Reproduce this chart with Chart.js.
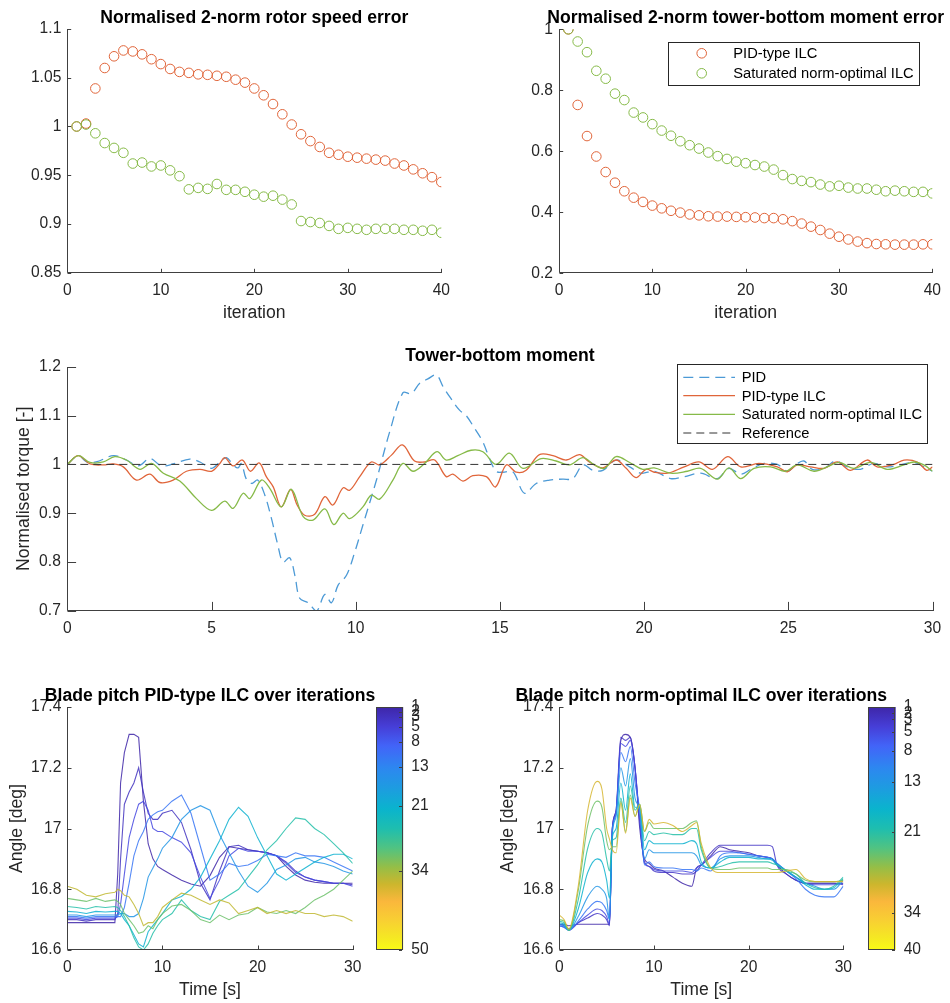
<!DOCTYPE html>
<html><head><meta charset="utf-8"><title>ILC results</title>
<script src="https://cdn.jsdelivr.net/npm/chart.js@4.4.1/dist/chart.umd.min.js"></script>
<style>
html,body{margin:0;padding:0;background:#fff;}
#page{position:relative;width:950px;height:1003px;background:#fff;overflow:hidden;}
canvas{position:absolute;}
</style></head><body>
<div id="page">
<canvas id="c1" width="470" height="330" style="left:0;top:0"></canvas>
<canvas id="c2" width="480" height="330" style="left:470px;top:0"></canvas>
<canvas id="c3" width="950" height="310" style="left:0;top:335px"></canvas>
<canvas id="c4" width="470" height="331" style="left:0;top:672px"></canvas>
<canvas id="c5" width="480" height="331" style="left:470px;top:672px"></canvas>
<canvas id="c4b" width="80" height="331" style="left:372px;top:672px"></canvas>
<canvas id="c5b" width="80" height="331" style="left:862px;top:672px"></canvas>
</div>
<script>
// ================= DATA =================
const ITER = [1,2,3,4,5,6,7,8,9,10,11,12,13,14,15,16,17,18,19,20,21,22,23,24,25,26,27,28,29,30,31,32,33,34,35,36,37,38,39,40];
const ITER_TICKS = [0,10,20,30,40];
const ITER_LABELS = ['0','10','20','30','40'];

// Normalised 2-norm rotor speed error
const RS_PID_ILC = [1.0,1.003,1.039,1.060,1.072,1.078,1.077,1.074,1.069,1.064,1.059,1.056,1.055,1.0535,1.053,1.052,1.051,1.048,1.045,1.039,1.032,1.023,1.0125,1.002,0.992,0.985,0.979,0.973,0.971,0.969,0.968,0.967,0.966,0.965,0.962,0.960,0.956,0.952,0.948,0.943];
const RS_NO_ILC  = [1.0,1.002,0.993,0.983,0.978,0.973,0.962,0.963,0.959,0.960,0.955,0.949,0.9355,0.937,0.936,0.941,0.935,0.935,0.933,0.930,0.928,0.929,0.925,0.920,0.903,0.902,0.901,0.898,0.895,0.896,0.895,0.894,0.895,0.895,0.895,0.894,0.894,0.893,0.894,0.891];
const RS_TICKS = [0.85,0.9,0.95,1,1.05,1.1];
const RS_LABELS = ['0.85','0.9','0.95','1','1.05','1.1'];

// Normalised 2-norm tower-bottom moment error
const TB_PID_ILC = [1.0,0.752,0.650,0.583,0.532,0.497,0.469,0.448,0.434,0.422,0.413,0.405,0.399,0.393,0.390,0.387,0.386,0.386,0.385,0.384,0.383,0.381,0.381,0.377,0.371,0.363,0.353,0.342,0.330,0.320,0.311,0.304,0.299,0.296,0.295,0.294,0.294,0.294,0.295,0.295];
const TB_NO_ILC  = [1.0,0.960,0.925,0.864,0.838,0.789,0.768,0.727,0.711,0.689,0.668,0.651,0.633,0.620,0.609,0.596,0.584,0.575,0.566,0.561,0.555,0.550,0.540,0.522,0.509,0.503,0.499,0.491,0.485,0.487,0.481,0.478,0.478,0.474,0.469,0.471,0.469,0.467,0.467,0.462];
const TB_TICKS = [0.2,0.4,0.6,0.8,1];
const TB_LABELS = ['0.2','0.4','0.6','0.8','1'];

// Tower-bottom moment time series [time s, normalised torque]
const MOM_PID = [[0,1.0],[0.38,1.018],[0.67,1.005],[1.0,1.005],[1.6,1.018],[2.05,1.009],[2.46,0.997],[2.86,1.012],[3.27,0.997],[3.67,1.001],[4.25,1.011],[4.6,1.005],[5.0,0.992],[5.29,1.005],[5.52,1.014],[5.75,0.999],[5.92,0.993],[6.04,1.002],[6.2,0.971],[6.4,0.961],[6.6,0.968],[6.85,0.937],[7.08,0.889],[7.3,0.835],[7.48,0.80],[7.71,0.809],[7.89,0.773],[8.06,0.726],[8.35,0.717],[8.64,0.70],[8.93,0.734],[9.16,0.717],[9.39,0.753],[9.68,0.773],[9.97,0.821],[10.25,0.876],[10.72,0.968],[11.18,1.067],[11.64,1.147],[11.93,1.145],[12.22,1.166],[12.5,1.175],[12.8,1.183],[13.03,1.159],[13.3,1.135],[13.6,1.111],[13.83,1.10],[14.12,1.074],[14.41,1.046],[14.64,1.012],[14.87,0.986],[15.1,0.984],[15.45,0.985],[15.85,0.941],[16.26,0.961],[16.72,0.968],[17.18,0.970],[17.53,0.971],[17.88,0.999],[18.22,0.988],[18.57,0.988],[19.03,1.009],[19.5,0.995],[19.9,0.982],[20.35,0.986],[20.92,0.971],[21.39,0.975],[21.96,0.982],[22.54,0.971],[22.94,0.992],[23.35,0.980],[23.7,0.990],[24.16,1.002],[24.62,1.0],[24.97,0.986],[25.25,0.999],[25.54,1.007],[25.83,0.990],[26.24,0.992],[26.64,1.007],[27.04,0.995],[27.5,0.990],[27.96,1.002],[28.43,0.995],[28.89,0.999],[29.35,1.004],[29.7,0.995],[30,0.986]];
const MOM_PID_ILC = [[0,1.0],[0.38,1.018],[0.79,1.001],[1.25,0.999],[1.6,1.001],[1.94,0.995],[2.4,0.968],[2.86,0.980],[3.21,0.963],[3.67,0.968],[4.13,0.986],[4.6,0.990],[5.0,0.986],[5.29,1.002],[5.46,1.014],[5.75,0.997],[6.07,1.009],[6.35,0.986],[6.65,1.003],[6.9,0.975],[7.14,0.954],[7.42,0.913],[7.74,0.949],[7.97,0.917],[8.23,0.896],[8.58,0.898],[8.93,0.934],[9.21,0.917],[9.56,0.952],[9.79,0.947],[10.14,0.975],[10.54,1.005],[10.83,0.999],[11.24,1.019],[11.62,1.04],[12.04,1.007],[12.39,1.005],[12.74,1.009],[13.14,0.975],[13.37,0.980],[13.72,0.966],[14.06,0.977],[14.53,0.975],[14.85,0.954],[15.22,0.999],[15.57,0.984],[15.91,0.988],[16.37,1.020],[16.84,1.018],[17.3,1.009],[17.76,1.020],[18.1,1.005],[18.57,0.993],[19.03,1.009],[19.38,0.992],[19.72,0.973],[20.07,0.990],[20.35,0.984],[20.81,0.982],[21.39,0.995],[21.9,1.005],[22.37,0.990],[22.9,1.016],[23.35,0.995],[23.98,1.002],[24.62,0.995],[24.97,0.985],[25.31,0.999],[25.77,0.995],[26.24,0.992],[26.7,1.005],[27.16,0.988],[27.73,1.009],[28.08,0.995],[28.66,1.0],[29.01,1.009],[29.47,1.005],[29.8,0.988],[30,0.995]];
const MOM_NO_ILC = [[0,1.0],[0.38,1.018],[0.79,1.004],[1.25,1.005],[1.65,1.016],[2.05,1.009],[2.52,0.990],[2.92,1.002],[3.33,0.982],[3.9,0.966],[4.48,0.930],[5.0,0.906],[5.46,0.925],[5.75,0.910],[6.1,0.941],[6.33,0.930],[6.73,0.968],[7.02,0.951],[7.42,0.913],[7.77,0.949],[8.18,0.893],[8.52,0.886],[8.93,0.909],[9.24,0.877],[9.56,0.900],[9.79,0.889],[10.25,0.913],[10.54,0.937],[10.83,0.929],[11.29,0.968],[11.64,1.002],[11.99,0.986],[12.39,1.002],[12.82,1.026],[13.14,1.009],[13.54,1.018],[14.0,1.029],[14.41,1.026],[14.87,1.0],[15.33,1.023],[15.8,0.992],[16.43,1.012],[16.95,1.007],[17.41,0.999],[17.88,1.014],[18.28,0.999],[18.63,0.992],[19.03,1.016],[19.5,1.004],[19.95,0.990],[20.35,0.993],[20.92,0.982],[21.5,0.986],[21.96,0.992],[22.54,0.970],[22.94,0.993],[23.35,0.971],[23.81,0.992],[24.39,0.995],[24.91,0.986],[25.31,0.999],[25.89,0.986],[26.35,0.995],[26.76,1.004],[27.27,0.992],[27.85,1.004],[28.43,0.990],[29.01,0.999],[29.35,1.005],[29.7,0.999],[30,0.986]];
const MOM_REF = [[0,1],[30,1]];
const MOM_XTICKS = [0,5,10,15,20,25,30];
const MOM_XLABELS = ['0','5','10','15','20','25','30'];
const MOM_YTICKS = [0.7,0.8,0.9,1,1.1,1.2];
const MOM_YLABELS = ['0.7','0.8','0.9','1','1.1','1.2'];

// Blade pitch, PID-type ILC (time grid + one array per plotted iteration)
const T_PL = [0,1,2,3,4,5,5.3,5.6,6,6.5,7,7.5,8,8.5,9,9.5,10,11,12,13,14,15,16,17,18,19,20,21,22,23,24,25,26,27,28,29,30];
const PL_ITERS = [1,3,6,11,16,21,26,31,36];
const PL_1  = [16.69,16.69,16.69,16.69,16.69,16.69, 16.85,17.15,17.25,17.31,17.31,17.30,17.09,16.95,16.90,16.875,16.865, 16.847,16.83,16.817,16.81,16.845,16.905,16.94,16.935,16.93,16.925,16.92,16.91,16.875,16.847,16.83,16.823,16.82,16.82,16.82,16.82];
const PL_3  = [16.70,16.70,16.695,16.70,16.70,16.70, 16.72,16.90,17.08,17.12,17.15,17.20,17.12,17.05,17.03,17.03,17.05, 17.06,17.02,16.93,16.82,16.765,16.86,16.94,16.945,16.93,16.925,16.92,16.91,16.89,16.86,16.84,16.83,16.825,16.82,16.82,16.815];
const PL_6  = [16.705,16.705,16.70,16.705,16.705,16.705, 16.71,16.75,16.85,16.97,17.03,17.08,17.09,17.06,17.0,16.99,16.99, 16.97,16.955,16.92,16.84,16.77,16.83,16.91,16.935,16.925,16.925,16.92,16.91,16.885,16.855,16.84,16.83,16.825,16.82,16.82,16.81];
const PL_11 = [16.71,16.71,16.705,16.71,16.71,16.71, 16.71,16.71,16.74,16.82,16.91,16.96,16.99,17.03,17.045,17.055,17.06, 17.09,17.11,17.05,16.94,16.83,16.85,16.885,16.875,16.88,16.895,16.915,16.91,16.905,16.92,16.91,16.91,16.905,16.89,16.875,16.86];
const PL_16 = [16.715,16.715,16.71,16.715,16.715,16.715, 16.715,16.72,16.72,16.71,16.71,16.72,16.77,16.84,16.87,16.90,16.935, 16.97,17.03,17.06,17.075,17.06,16.98,16.92,16.86,16.81,16.79,16.82,16.865,16.88,16.90,16.905,16.89,16.885,16.875,16.86,16.85];
const PL_21 = [16.727,16.725,16.72,16.727,16.725,16.727, 16.727,16.72,16.70,16.68,16.65,16.62,16.61,16.66,16.68,16.70,16.72, 16.765,16.776,16.80,16.84,16.90,16.96,17.03,17.07,17.04,16.97,16.91,16.85,16.83,16.85,16.87,16.89,16.905,16.915,16.915,16.90];
const PL_26 = [16.743,16.74,16.735,16.743,16.74,16.743, 16.74,16.73,16.71,16.68,16.64,16.61,16.60,16.62,16.655,16.68,16.70, 16.72,16.765,16.73,16.71,16.70,16.76,16.78,16.80,16.84,16.88,16.93,16.96,17.0,17.035,17.03,17.0,16.98,16.95,16.92,16.885];
const PL_31 = [16.77,16.765,16.76,16.77,16.76,16.765, 16.76,16.75,16.72,16.70,16.68,16.655,16.66,16.68,16.67,16.70,16.72, 16.745,16.75,16.73,16.70,16.69,16.715,16.70,16.715,16.72,16.74,16.725,16.72,16.73,16.72,16.74,16.765,16.78,16.80,16.83,16.86];
const PL_36 = [16.81,16.80,16.78,16.775,16.785,16.79, 16.80,16.795,16.78,16.775,16.75,16.72,16.68,16.69,16.69,16.71,16.74, 16.765,16.787,16.78,16.765,16.75,16.765,16.755,16.72,16.73,16.74,16.72,16.73,16.72,16.73,16.72,16.72,16.71,16.715,16.71,16.695];
const PL_LINES = [PL_1,PL_3,PL_6,PL_11,PL_16,PL_21,PL_26,PL_31,PL_36];

// Blade pitch, norm-optimal ILC
const T_PR = [0,0.5,1,2,3,4,4.5,5,5.3,5.6,6,6.5,7,7.5,8,8.5,9,9.5,10,11,12,13,14,14.5,15,16,17,18,19,20,21,22,22.5,23,24,25,26,27,28,29,30];
const PR_ITERS = [1,3,5,9,13,17,21,25,30];
const PR_1  = [16.685,16.685,16.68,16.685,16.685,16.685,16.685,16.685,16.685, 17.0,17.06,17.29,17.31,17.30,17.2,17.0,16.9,16.885,16.87, 16.86,16.84,16.82,16.81,16.87,16.88,16.91,16.94,16.93,16.925,16.92, 16.91,16.905,16.9,16.88,16.85,16.83,16.82,16.82,16.82,16.82,16.82];
const PR_3  = [16.685,16.68,16.67,16.69,16.705,16.72,16.715,16.70,16.68, 17.0,17.06,17.30,17.29,17.30,17.2,17.02,16.89,16.875,16.86, 16.855,16.855,16.85,16.85,16.86,16.88,16.92,16.945,16.945,16.945,16.945, 16.945,16.945,16.94,16.88,16.85,16.83,16.82,16.82,16.82,16.82,16.815];
const PR_5  = [16.68,16.675,16.665,16.69,16.715,16.735,16.73,16.71,16.685, 17.0,17.05,17.28,17.27,17.29,17.2,17.03,16.885,16.875,16.865, 16.86,16.86,16.86,16.855,16.87,16.88,16.905,16.925,16.925,16.92,16.915, 16.91,16.905,16.9,16.885,16.86,16.84,16.82,16.815,16.815,16.815,16.82];
const PR_9  = [16.68,16.675,16.665,16.695,16.735,16.76,16.755,16.73,16.70, 16.99,17.05,17.25,17.22,17.27,17.15,17.06,16.88,16.89,16.875, 16.87,16.87,16.865,16.865,16.86,16.87,16.86,16.91,16.92,16.92,16.915, 16.91,16.905,16.9,16.885,16.86,16.835,16.80,16.78,16.775,16.775,16.81];
const PR_13 = [16.685,16.68,16.665,16.71,16.775,16.81,16.80,16.77,16.70, 16.98,17.04,17.20,17.14,17.23,17.1,17.06,16.90,16.93,16.92, 16.92,16.92,16.92,16.92,16.91,16.88,16.87,16.9,16.91,16.91,16.91, 16.905,16.90,16.9,16.885,16.86,16.84,16.82,16.81,16.80,16.80,16.83];
const PR_17 = [16.69,16.685,16.665,16.735,16.855,16.90,16.89,16.83,16.77, 16.97,17.0,17.15,17.06,17.18,17.07,17.07,16.93,16.96,16.95, 16.95,16.95,16.95,16.96,16.95,16.89,16.87,16.89,16.905,16.905,16.905, 16.90,16.90,16.895,16.88,16.86,16.84,16.815,16.80,16.80,16.805,16.835];
const PR_21 = [16.695,16.69,16.665,16.765,16.935,17.0,16.985,16.90,16.86, 16.96,16.97,17.10,17.02,17.14,17.06,17.08,16.96,16.99,16.98, 16.985,16.98,16.98,17.0,17.0,16.93,16.87,16.875,16.885,16.89,16.89, 16.89,16.89,16.885,16.88,16.86,16.85,16.82,16.805,16.80,16.81,16.84];
const PR_25 = [16.70,16.695,16.665,16.795,17.01,17.09,17.07,16.96,16.93, 16.94,16.94,17.09,16.99,17.11,17.04,17.08,16.99,17.02,17.0, 17.0,17.0,17.0,17.02,17.025,16.94,16.87,16.865,16.865,16.87,16.87, 16.87,16.87,16.865,16.865,16.865,16.85,16.83,16.825,16.825,16.825,16.83];
const PR_30 = [16.715,16.70,16.67,16.81,17.06,17.155,17.13,17.0,16.965, 16.93,16.92,17.085,16.985,17.10,17.04,17.08,16.99,17.03,17.015, 17.02,17.01,16.99,17.01,17.02,16.95,16.87,16.855,16.855,16.855,16.855, 16.855,16.855,16.855,16.855,16.86,16.865,16.835,16.825,16.825,16.825,16.825];
const PR_LINES = [PR_1,PR_3,PR_5,PR_9,PR_13,PR_17,PR_21,PR_25,PR_30];

const PITCH_XTICKS = [0,10,20,30];
const PITCH_XLABELS = ['0','10','20','30'];
const PITCH_YTICKS = [16.6,16.8,17,17.2,17.4];
const PITCH_YLABELS = ['16.6','16.8','17','17.2','17.4'];

const CB_L_RANGE = [1,50];
const CB_L_TICKS = [1,2,3,5,8,13,21,34,50];
const CB_R_RANGE = [1,40];
const CB_R_TICKS = [1,2,3,5,8,13,21,34,40];

// ================= STYLE / HELPERS =================
Chart.defaults.font.family = "'Liberation Sans', Arial, Helvetica, sans-serif";
Chart.defaults.color = '#262626';
const INK = '#262626', AXIS = '#404040';
const F_TICK = 15.6, F_LABEL = 17.6, F_LEG = 14.7;
const RED = '#E0653A', GREEN = '#86BA48', BLUE = '#4C9AD6';
const PARULA = [
 [0.00,[62,38,168]],[0.08,[70,62,215]],[0.16,[66,100,248]],[0.25,[45,135,240]],
 [0.33,[30,155,225]],[0.42,[10,180,205]],[0.50,[30,190,175]],[0.58,[80,195,130]],
 [0.66,[150,190,70]],[0.73,[205,182,45]],[0.80,[250,183,60]],[0.88,[248,208,50]],
 [0.95,[245,232,35]],[1.00,[249,251,21]]];
function parula(f){
  f=Math.max(0,Math.min(1,f));
  for(let i=1;i<PARULA.length;i++){
    if(f<=PARULA[i][0]){const a=PARULA[i-1],b=PARULA[i];const u=(f-a[0])/(b[0]-a[0]);
      return a[1].map((c,k)=>Math.round(c+(b[1][k]-c)*u));}
  }
  return PARULA[PARULA.length-1][1];
}
const xy=(ts,vs)=>vs.map((v,i)=>({x:ts[i],y:v}));
const pairs=p=>p.map(a=>({x:a[0],y:a[1]}));

function linAxis(c){
  const o={type:'linear',min:c.min,max:c.max,
    afterBuildTicks:s=>{s.ticks=c.vals.map(v=>({value:v}));},
    afterFit:s=>{ if(c.h) s.height=c.size; else s.width=c.size; },
    grid:{display:false,drawTicks:false},border:{display:false},
    ticks:{autoSkip:false,maxRotation:0,minRotation:0,padding:c.tickPad,color:INK,font:{size:F_TICK},callback:(v,i)=>c.labels[i]},
    title:c.title?{display:true,text:c.title,color:INK,font:{size:F_LABEL},padding:c.titlePad}:{display:false}};
  if(c.pos) o.position=c.pos;
  if(c.reverse) o.reverse=true;
  return o;
}

const matAxes={id:'matAxes',
  afterDatasetsDraw(chart,args,o){
    const {ctx,chartArea:a}=chart;const x=chart.scales.x,y=chart.scales.y;
    ctx.save();ctx.strokeStyle=AXIS;ctx.lineWidth=1;ctx.beginPath();
    const L=Math.round(a.left)+0.5,B=Math.round(a.bottom)-0.5;
    ctx.moveTo(L,Math.round(a.top));ctx.lineTo(L,B);ctx.lineTo(Math.round(a.right)+1,B);
    x.ticks.forEach(t=>{const p=Math.round(x.getPixelForValue(t.value))+0.5;ctx.moveTo(p,B);ctx.lineTo(p,B-o.len);});
    y.ticks.forEach(t=>{const p=Math.round(y.getPixelForValue(t.value))+0.5;ctx.moveTo(L,p);ctx.lineTo(L+o.len,p);});
    ctx.stroke();ctx.restore();
  },
  afterDraw(chart,args,o){
    if(!o.title)return;const {ctx,chartArea:a}=chart;
    ctx.save();ctx.fillStyle='#000';ctx.font="bold 17.6px 'Liberation Sans', Arial, sans-serif";
    ctx.textAlign='center';ctx.textBaseline='alphabetic';ctx.fillText(o.title,(a.left+a.right)/2,o.titleY);ctx.restore();
  }};

const legendBox={id:'legendBox',
  afterDraw(chart,args,o){
    if(!o||!o.items)return;const ctx=chart.ctx;ctx.save();
    ctx.fillStyle='#fff';ctx.fillRect(o.x,o.y,o.w,o.h);
    ctx.strokeStyle=INK;ctx.lineWidth=1;ctx.strokeRect(Math.round(o.x)+0.5,Math.round(o.y)+0.5,Math.round(o.w),Math.round(o.h));
    o.items.forEach(it=>{
      const ds=chart.data.datasets[it.ds];
      ctx.strokeStyle=ds.borderColor;ctx.lineWidth=ds.borderWidth||1;
      if(o.marker){ctx.setLineDash([]);ctx.beginPath();ctx.arc(o.mx,it.y,ds.pointRadius,0,Math.PI*2);ctx.lineWidth=1;ctx.stroke();}
      else{ctx.setLineDash(ds.borderDash||[]);ctx.beginPath();ctx.moveTo(o.lx1,it.y);ctx.lineTo(o.lx2,it.y);ctx.stroke();ctx.setLineDash([]);}
      ctx.fillStyle='#000';ctx.font=F_LEG+"px 'Liberation Sans', Arial, sans-serif";ctx.textAlign='left';ctx.textBaseline='middle';
      ctx.fillText(ds.label,o.tx,it.y+1);
    });
    ctx.restore();
  }};

const cbarPlug={id:'cbarPlug',
  afterDraw(chart){
    const {ctx,chartArea:a}=chart;const y=chart.scales.y;ctx.save();ctx.strokeStyle=AXIS;ctx.lineWidth=1;
    ctx.strokeRect(Math.round(a.left)+0.5,Math.round(a.top)+0.5,Math.round(a.right-a.left)-1,Math.round(a.bottom-a.top)-1);
    ctx.beginPath();
    y.ticks.forEach(t=>{const p=Math.round(y.getPixelForValue(t.value))+0.5;ctx.moveTo(Math.round(a.right)-1,p);ctx.lineTo(Math.round(a.right)-4,p);});
    ctx.stroke();ctx.restore();
  }};

function commonOpts(pad,xAx,yAx,plug){
  return {responsive:false,animation:false,events:[],layout:{padding:pad},
    plugins:Object.assign({legend:{display:false},tooltip:{enabled:false}},plug),
    scales:{x:xAx,y:yAx}};
}
function scatterDs(label,data,color,order){
  return {label,data,showLine:false,pointStyle:'circle',pointRadius:4.8,pointBorderWidth:1,
    borderColor:color,pointBorderColor:color,backgroundColor:'rgba(0,0,0,0)',pointBackgroundColor:'rgba(0,0,0,0)',order};
}

// ================= CHART 1 =================
new Chart(document.getElementById('c1'),{type:'scatter',
  data:{datasets:[scatterDs('PID-type ILC',xy(ITER,RS_PID_ILC),RED,2),scatterDs('Saturated norm-optimal ILC',xy(ITER,RS_NO_ILC),GREEN,1)]},
  options:commonOpts({left:0,right:28.7,top:29,bottom:0},
    linAxis({h:true,min:0,max:40,vals:ITER_TICKS,labels:ITER_LABELS,size:57.3,tickPad:8.5,title:'iteration',titlePad:{top:0,bottom:6.4}}),
    linAxis({min:0.85,max:1.1,vals:RS_TICKS,labels:RS_LABELS,size:67.3,tickPad:6}),
    {matAxes:{len:3.7,title:'Normalised 2-norm rotor speed error',titleY:22.7}}),
  plugins:[matAxes]});

// ================= CHART 2 =================
new Chart(document.getElementById('c2'),{type:'scatter',
  data:{datasets:[scatterDs('PID-type ILC',xy(ITER,TB_PID_ILC),RED,2),scatterDs('Saturated norm-optimal ILC',xy(ITER,TB_NO_ILC),GREEN,1)]},
  options:commonOpts({left:0,right:17.7,top:29.3,bottom:0},
    linAxis({h:true,min:0,max:40,vals:ITER_TICKS,labels:ITER_LABELS,size:56.7,tickPad:8.5,title:'iteration',titlePad:{top:0,bottom:6.4}}),
    linAxis({min:0.2,max:1,vals:TB_TICKS,labels:TB_LABELS,size:89,tickPad:6}),
    {matAxes:{len:3.7,title:'Normalised 2-norm tower-bottom moment error',titleY:22.7},
     legendBox:{x:198,y:42,w:251,h:43,marker:true,mx:231.7,tx:263.3,items:[{ds:0,y:53.3},{ds:1,y:73.3}]}}),
  plugins:[matAxes,legendBox]});

// ================= CHART 3 =================
new Chart(document.getElementById('c3'),{type:'line',
  data:{datasets:[
    {label:'PID',data:pairs(MOM_PID),borderColor:BLUE,borderWidth:1.3,borderDash:[10,6],pointRadius:0,tension:0.35,order:3},
    {label:'PID-type ILC',data:pairs(MOM_PID_ILC),borderColor:RED,borderWidth:1.3,pointRadius:0,tension:0.35,order:2},
    {label:'Saturated norm-optimal ILC',data:pairs(MOM_NO_ILC),borderColor:GREEN,borderWidth:1.3,pointRadius:0,tension:0.35,order:1},
    {label:'Reference',data:pairs(MOM_REF),borderColor:'#333333',borderWidth:1,borderDash:[8,5],pointRadius:0,order:0}]},
  options:commonOpts({left:0,right:17.5,top:31.7,bottom:0},
    linAxis({h:true,min:0,max:30,vals:MOM_XTICKS,labels:MOM_XLABELS,size:34,tickPad:8}),
    linAxis({min:0.7,max:1.2,vals:MOM_YTICKS,labels:MOM_YLABELS,size:67.3,tickPad:6.5,title:'Normalised torque [-]',titlePad:{top:13.6,bottom:0}}),
    {matAxes:{len:8.6,title:'Tower-bottom moment',titleY:25.7},
     legendBox:{x:677.3,y:29.3,w:250,h:79,lx1:683.3,lx2:735,tx:741.7,items:[{ds:0,y:42.3},{ds:1,y:60.7},{ds:2,y:79.3},{ds:3,y:98}]}}),
  plugins:[matAxes,legendBox]});

// ================= PITCH CHARTS =================
function pitchDatasets(T,lines,iters,range,smooth){
  return lines.map((vals,i)=>{const c=parula((iters[i]-range[0])/(range[1]-range[0]));
    const d={label:'Iteration '+iters[i],data:xy(T,vals),borderColor:`rgba(${c[0]},${c[1]},${c[2]},0.85)`,borderWidth:1.1,pointRadius:0,tension:0,order:lines.length-i};
    if(smooth){d.cubicInterpolationMode='monotone';}
    return d;});
}
function colorbar(id,range,ticks,padL,width){
  new Chart(document.getElementById(id),{type:'bar',
    data:{labels:[''],datasets:[{data:[[range[0],range[1]]],barPercentage:1,categoryPercentage:1,borderWidth:0,
      backgroundColor:(c)=>{const ch=c.chart,a=ch.chartArea;if(!a)return '#888';
        const g=ch.ctx.createLinearGradient(0,a.top,0,a.bottom);PARULA.forEach(s=>g.addColorStop(s[0],`rgb(${s[1].join(',')})`));return g;}}]},
    options:{responsive:false,animation:false,events:[],layout:{padding:{left:padL,right:0,top:35,bottom:53}},
      plugins:{legend:{display:false},tooltip:{enabled:false}},
      scales:{x:{display:false},
        y:{position:'right',reverse:true,min:range[0],max:range[1],
          afterBuildTicks:s=>{s.ticks=ticks.map(v=>({value:v}));},afterFit:s=>{s.width=width;},
          grid:{display:false,drawTicks:false},border:{display:false},
          ticks:{autoSkip:false,padding:8,color:INK,font:{size:F_TICK},callback:(v,i)=>String(ticks[i])}}}},
    plugins:[cbarPlug]});
}

new Chart(document.getElementById('c4'),{type:'line',
  data:{datasets:pitchDatasets(T_PL,PL_LINES,PL_ITERS,CB_L_RANGE,false)},
  options:commonOpts({left:0,right:117.3,top:35,bottom:0},
    linAxis({h:true,min:0,max:30,vals:PITCH_XTICKS,labels:PITCH_XLABELS,size:53,tickPad:8.5,title:'Time [s]',titlePad:{top:0,bottom:2.4}}),
    linAxis({min:16.6,max:17.4,vals:PITCH_YTICKS,labels:PITCH_YLABELS,size:67.3,tickPad:6,title:'Angle [deg]',titlePad:{top:6.1,bottom:0}}),
    {matAxes:{len:4,title:'Blade pitch PID-type ILC over iterations',titleY:28.7}}),
  plugins:[matAxes]});
colorbar('c4b',CB_L_RANGE,CB_L_TICKS,4,48.7);

new Chart(document.getElementById('c5'),{type:'line',
  data:{datasets:pitchDatasets(T_PR,PR_LINES,PR_ITERS,CB_R_RANGE,true)},
  options:commonOpts({left:0,right:106.7,top:35,bottom:0},
    linAxis({h:true,min:0,max:30,vals:PITCH_XTICKS,labels:PITCH_XLABELS,size:53,tickPad:8.5,title:'Time [s]',titlePad:{top:0,bottom:2.4}}),
    linAxis({min:16.6,max:17.4,vals:PITCH_YTICKS,labels:PITCH_YLABELS,size:89.3,tickPad:6,title:'Angle [deg]',titlePad:{top:27.7,bottom:0}}),
    {matAxes:{len:4,title:'Blade pitch norm-optimal ILC over iterations',titleY:28.7}}),
  plugins:[matAxes]});
colorbar('c5b',CB_R_RANGE,CB_R_TICKS,6.3,46.3);
</script></body></html>
